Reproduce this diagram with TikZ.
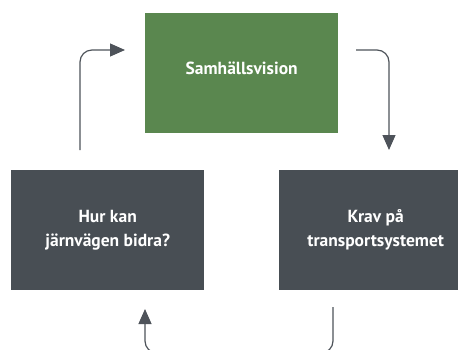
\documentclass[tikz,border=0pt]{standalone}
\usepackage{fontspec}
\setmainfont{PT Sans}
\usetikzlibrary{arrows.meta}
\definecolor{vgreen}{HTML}{5A874F}
\definecolor{vdark}{HTML}{484E54}
\definecolor{vline}{HTML}{4E535A}
\begin{document}
\begin{tikzpicture}[x=1pt,y=-1pt,
  box/.style={minimum width=193pt, minimum height=120pt, inner sep=0pt, text=white, align=center, font=\fontsize{17.5}{24}\selectfont\bfseries},
  conn/.style={draw=vline, line width=1.2pt, rounded corners=12pt, -{Triangle[length=15pt,width=13pt]}}]
\clip (0,0) rectangle (458,349);
\fill[white] (0,0) rectangle (458,349);
\node[box, fill=vgreen, anchor=north west] (vis) at (145,13) {\raisebox{10pt}{Samhällsvision}};
\node[box, fill=vdark, anchor=north west] (jv) at (11,170) {Hur kan\\järnvägen bidra?};
\node[box, fill=vdark, anchor=north west] (krav) at (279,170) {Krav på\\transportsystemet};
\coordinate (a1) at (80,150);
\coordinate (a2) at (125,50);
\coordinate (b1) at (356,50);
\coordinate (b2) at (389,150);
\coordinate (c1) at (333,307);
\coordinate (c2) at (145,309);
\draw[conn] (a1) |- (a2);
\draw[conn] (b1) -| (b2);
\draw[conn] (c1) -- (333,353) -| (c2);
\end{tikzpicture}
\end{document}
